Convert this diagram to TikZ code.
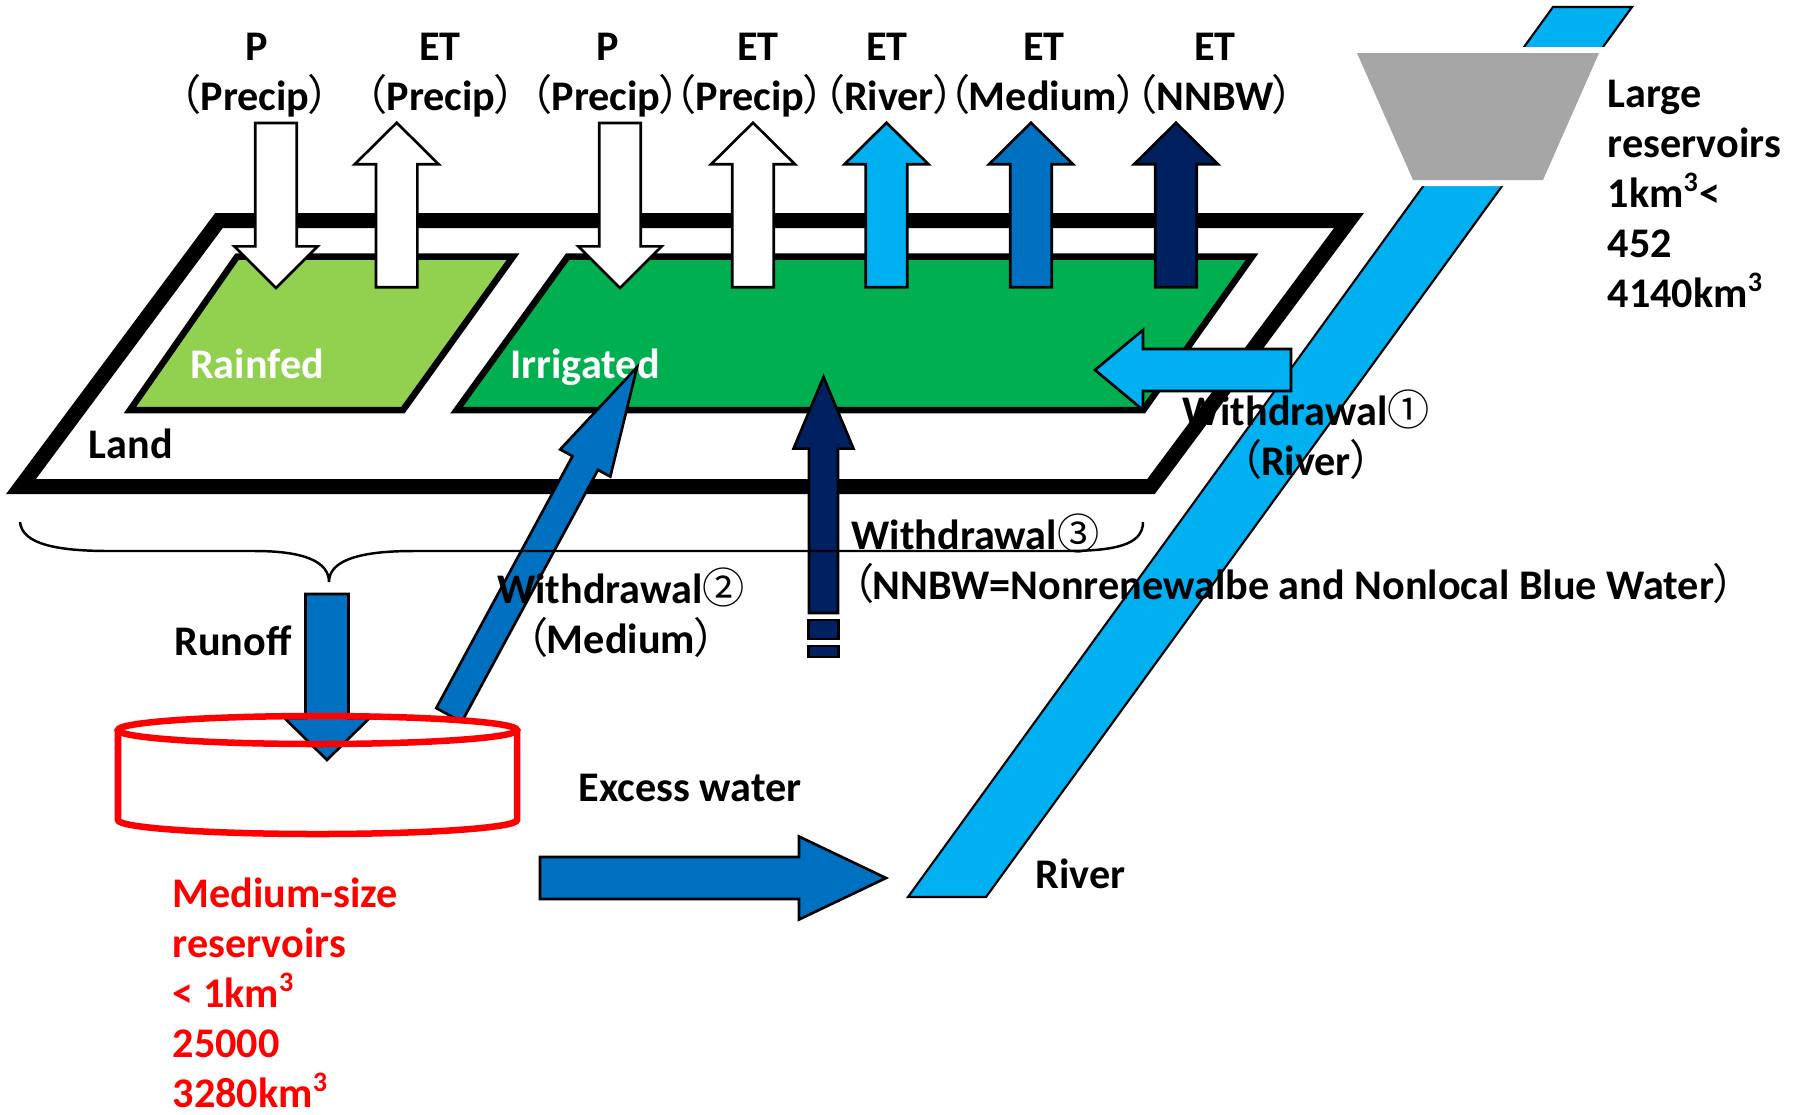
\documentclass[tikz,border=0pt]{standalone}
\usepackage{fontspec}
\setmainfont{Carlito}
\newfontfamily\cjk[RawFeature=+palt]{Noto Sans CJK JP}
\usetikzlibrary{calc}
\definecolor{leafgreen}{HTML}{92D050}
\definecolor{cropgreen}{HTML}{00B050}
\definecolor{riverblue}{HTML}{00B0F0}
\definecolor{midblue}{HTML}{0070C0}
\definecolor{deepnavy}{HTML}{002060}
\definecolor{damgray}{HTML}{A6A6A6}
\definecolor{resred}{HTML}{FF0000}
\newcommand{\jlp}{{\cjk\mdseries （}}
\newcommand{\jrp}{{\cjk\mdseries ）}}
\newcommand{\circnum}[1]{{\cjk\mdseries #1}}
% block arrow: style, start, angle, length, shaft half, head half, head length
\newcommand{\blockarrow}[7]{%
  \draw[#1,shift={#2},rotate=#3] (0,-#5) -- ({#4-#7},-#5) -- ({#4-#7},-#6) -- (#4,0)
    -- ({#4-#7},#6) -- ({#4-#7},#5) -- (0,#5) -- cycle;}
\tikzset{
  lbl/.style={font=\fontsize{12}{14.2}\selectfont\bfseries,inner sep=0pt},
  whitelbl/.style={lbl,text=white},
  redlbl/.style={lbl,text=resred,align=left},
  landline/.style={draw=black,fill=white,line width=0.15cm},
  plotline/.style={draw=black,line width=0.065cm},
  arrowline/.style={draw=black,line width=0.75pt},
  riverline/.style={draw=black,fill=riverblue,line width=0.6pt},
  tankline/.style={draw=resred,line width=0.065cm},
  braceline/.style={draw=black,line width=0.7pt}
}
\begin{document}
\begin{tikzpicture}[x=0.01cm,y=-0.01cm]
  \useasboundingbox (0,0) rectangle (1800,1114);

  % land frame and the two fields
  \draw[landline] (219,220.5) -- (1349,220.5) -- (1151,486.5) -- (21,486.5) -- cycle;
  \draw[plotline,fill=leafgreen] (237,256.7) -- (513,256.7) -- (403,410) -- (130,410) -- cycle;
  \draw[plotline,fill=cropgreen] (567.6,256.7) -- (1252,256.7) -- (1143.4,410) -- (456.7,410) -- cycle;
  \node[whitelbl,anchor=base] (rainfed) at (257,378) {Rainfed};
  \node[whitelbl,anchor=base] (irrig) at (585,378) {Irrigated};
  \node[lbl,anchor=base west] (land) at (88,458) {Land};

  % river with the large reservoir
  \draw[riverline] (1553,7) -- (1632,7) -- (986,897) -- (908,897) -- cycle;
  \fill[white] (1352,47) -- (1610,47) -- (1549,186) -- (1405,186) -- cycle;
  \fill[damgray] (1357,53) -- (1599,53) -- (1543,180) -- (1413,180) -- cycle;

  % vertical fluxes
  \foreach \x in {276,620}
    \blockarrow{arrowline,fill=white}{(\x,123)}{-90}{165}{20.7}{41.7}{41.6};
  \foreach \x/\c in {396.7/white,753/white,886.5/riverblue,1031/midblue,1176/deepnavy}
    \blockarrow{arrowline,fill=\c}{(\x,287.3)}{90}{164.6}{20.7}{42}{41.6};

  % withdrawals
  \blockarrow{arrowline,fill=riverblue}{(1291,370)}{180}{196}{21}{40}{48};
  \blockarrow{arrowline,fill=midblue}{(449,715)}{61.6}{395.5}{14.5}{28.5}{109};
  \blockarrow{arrowline,fill=deepnavy}{(823.5,613)}{90}{236}{14.5}{30}{71.6};
  \draw[arrowline,fill=deepnavy] (808.5,620) rectangle (838.5,639);
  \draw[arrowline,fill=deepnavy] (808.5,646) rectangle (838.5,657);

  % runoff, medium reservoir and excess water
  \blockarrow{arrowline,fill=midblue}{(327,594)}{-90}{166}{21.5}{42.5}{42};
  \blockarrow{arrowline,fill=midblue}{(540,878)}{0}{346}{21}{41.5}{87};
  \draw[tankline] (118,730) -- (118,820) arc[start angle=180,end angle=0,x radius=199.5,y radius=14] -- (517,730);
  \draw[tankline] (317.5,730) ellipse[x radius=199.5,y radius=14];

  % brace under the land
  \draw[braceline] (20,522) .. controls (22,545) and (60,551) .. (110,551) -- (255,551)
    .. controls (305,551) and (329,562) .. (329,582)
    .. controls (329,562) and (355,551) .. (413,551) -- (1065,551)
    .. controls (1115,551) and (1143,545) .. (1143,522);

  % flux labels on top
  \foreach \x/\xb/\ta/\tb/\nm in {257/255/P/Precip/pr,440/441/ET/Precip/er,
      608/606/P/Precip/pi,758/750/ET/Precip/ei,887/889/ET/River/riv,
      1044/1043/ET/Medium/med,1215/1215/ET/NNBW/nnbw} {
    \node[lbl,anchor=base] (top\nm) at (\x,60) {\ta};
    \node[lbl,anchor=base] (src\nm) at (\xb,110) {\jlp\tb\jrp};
  }

  % other labels (base = last line)
  \node[lbl,anchor=base west,align=left] (largeres) at (1607,307)
    {Large\\reservoirs\\1km\textsuperscript{3}<\\452\\4140km\textsuperscript{3}};
  \node[lbl,anchor=base,align=center] (wdriver) at (1306,475) {Withdrawal\circnum{①}\\\jlp River\jrp};
  \node[lbl,anchor=base,align=center] (wdmed) at (621,653) {Withdrawal\circnum{②}\\\jlp Medium\jrp};
  \node[lbl,anchor=base west,align=left] (wdnnbw) at (851,599)
    {Withdrawal\circnum{③}\\\jlp NNBW=Nonrenewalbe and Nonlocal Blue Water\jrp};
  \node[lbl,anchor=base] (runoff) at (233,655) {Runoff};
  \node[lbl,anchor=base] (excess) at (690,801) {Excess water};
  \node[lbl,anchor=base west] (river) at (1035,888) {River};
  \node[redlbl,anchor=base west] (medres) at (172,1107)
    {Medium-size\\reservoirs\\< 1km\textsuperscript{3}\\25000\\3280km\textsuperscript{3}};
\end{tikzpicture}
\end{document}
